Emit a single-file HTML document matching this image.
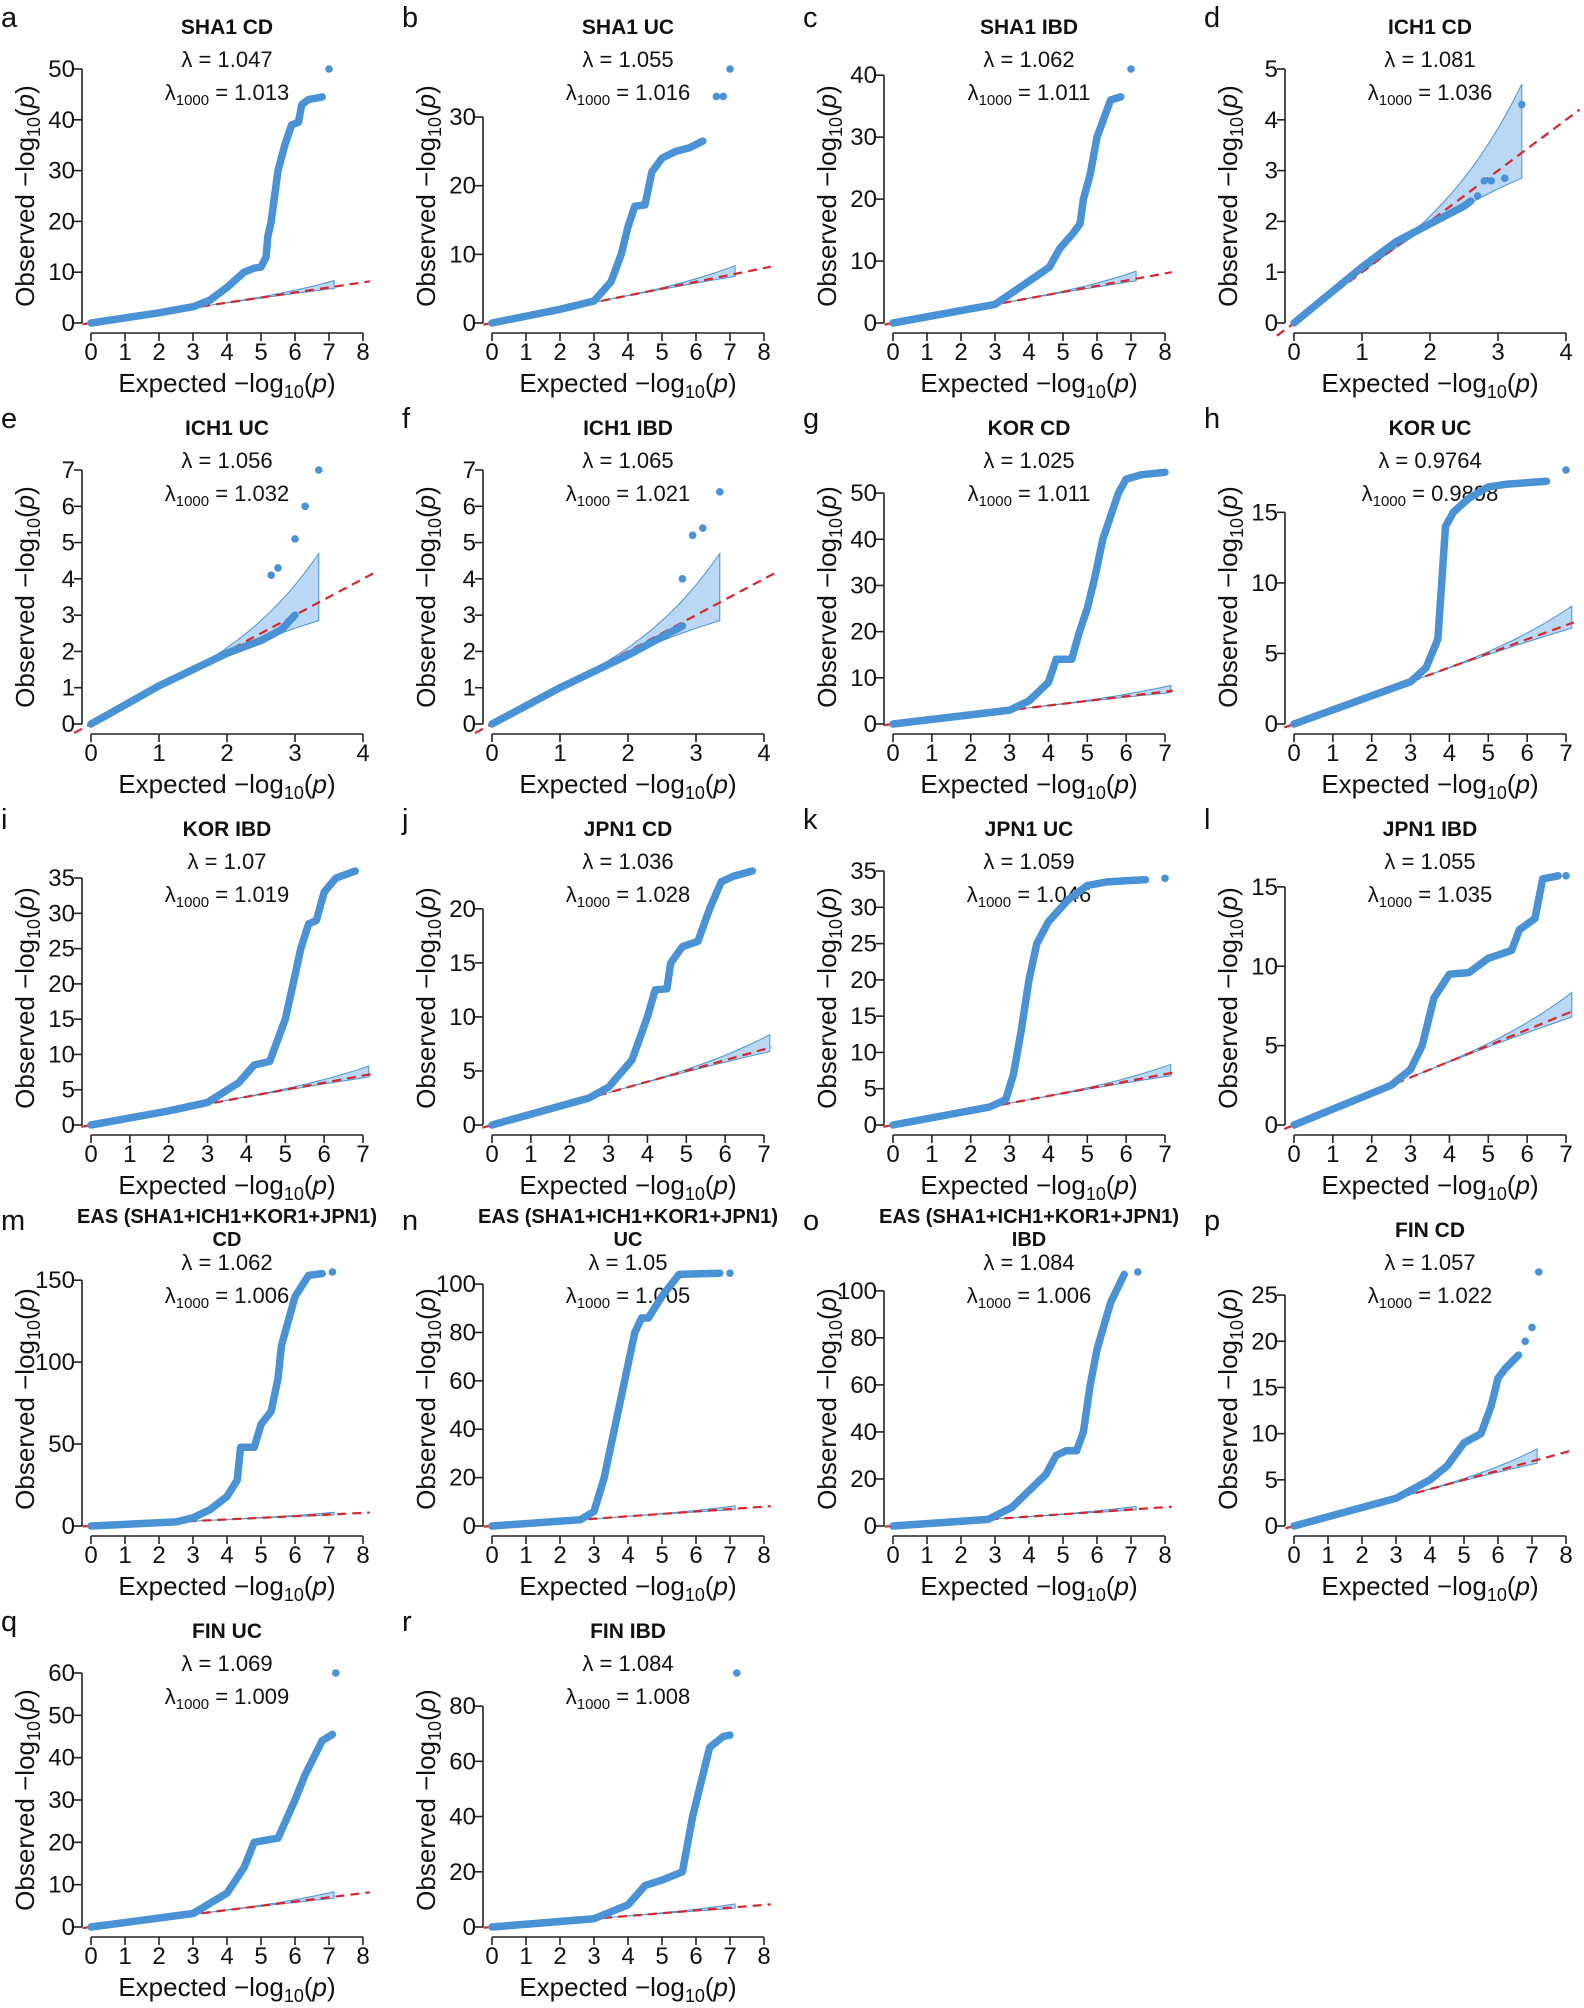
<!DOCTYPE html>
<html><head><meta charset="utf-8"><style>
html,body{margin:0;padding:0;background:#fff;}
svg{display:block;}
text{font-family:"Liberation Sans",Arial,sans-serif;fill:#111;}
</style></head><body>
<svg id="s" width="1584" height="2008" xmlns="http://www.w3.org/2000/svg"></svg>
<script>
const P=[
{L:'a',t:['SHA1 CD'],l:'1.047',l2:'1.013',xm:8,st:10,yt:50,M:50,c:[[0,0],[1,1],[2,2],[3,3.2],[3.5,4.5],[4,7],[4.5,10],[4.8,10.8],[5,11],[5.15,13],[5.2,17],[5.3,20],[5.4,25],[5.5,30],[5.7,35],[5.9,39],[6.1,39.5],[6.2,43],[6.4,44],[6.8,44.5]],d:[[7,50]]},
{L:'b',t:['SHA1 UC'],l:'1.055',l2:'1.016',xm:8,st:10,yt:30,M:37,c:[[0,0],[2,2],[3,3.2],[3.5,6],[3.8,10],[4,14],[4.2,17],[4.5,17.2],[4.7,22],[5,24],[5.4,25],[5.8,25.5],[6.2,26.5]],d:[[6.6,33],[6.8,33],[7,37]]},
{L:'c',t:['SHA1 IBD'],l:'1.062',l2:'1.011',xm:8,st:10,yt:40,M:41,c:[[0,0],[2,2],[3,3],[3.8,6],[4.2,7.5],[4.6,9],[4.9,12],[5.3,14.5],[5.5,16],[5.6,20],[5.8,24],[6,30],[6.2,33],[6.4,36],[6.7,36.5]],d:[[7,41]]},
{L:'d',t:['ICH1 CD'],l:'1.081',l2:'1.036',xm:4,st:1,yt:5,M:5,ich:1,c:[[0,0],[1,1.1],[1.5,1.6],[2,1.95],[2.5,2.3],[2.6,2.4]],d:[[2.7,2.5],[2.8,2.8],[2.9,2.8],[3.1,2.85],[3.35,4.3]]},
{L:'e',t:['ICH1 UC'],l:'1.056',l2:'1.032',xm:4,st:1,yt:7,M:7,ich:1,c:[[0,0],[1,1.05],[2,1.95],[2.5,2.3],[2.8,2.6],[3,3]],d:[[2.65,4.1],[2.75,4.3],[3.0,5.1],[3.15,6.0],[3.35,7.0]]},
{L:'f',t:['ICH1 IBD'],l:'1.065',l2:'1.021',xm:4,st:1,yt:7,M:7,ich:1,c:[[0,0],[1,1],[2,1.9],[2.8,2.7]],d:[[2.8,4],[2.95,5.2],[3.1,5.4],[3.35,6.4]]},
{L:'g',t:['KOR CD'],l:'1.025',l2:'1.011',xm:7,st:10,yt:50,M:55,c:[[0,0],[2.5,2.5],[3,3],[3.5,5],[4,9],[4.2,14],[4.6,14],[4.8,20],[5,25],[5.2,32],[5.4,40],[5.6,45],[5.8,50],[6,53],[6.4,54],[7,54.5]],d:[]},
{L:'h',t:['KOR UC'],l:'0.9764',l2:'0.9898',xm:7,st:5,yt:15,M:18,c:[[0,0],[2,2],[3,3],[3.4,4],[3.7,6],[3.8,10],[3.9,14],[4.1,15],[4.5,16],[5,16.8],[5.5,17],[6.5,17.2]],d:[[7,18]]},
{L:'i',t:['KOR IBD'],l:'1.07',l2:'1.019',xm:7,st:5,yt:35,M:36,c:[[0,0],[2,2],[3,3.2],[3.8,6],[4.2,8.5],[4.6,9],[4.8,12],[5,15],[5.2,20],[5.4,25],[5.6,28.5],[5.8,29],[6,33],[6.3,35],[6.8,36]],d:[]},
{L:'j',t:['JPN1 CD'],l:'1.036',l2:'1.028',xm:7,st:5,yt:20,M:23.5,c:[[0,0],[2.5,2.5],[3,3.5],[3.6,6],[3.8,8],[4,10],[4.2,12.5],[4.5,12.6],[4.6,15],[4.9,16.5],[5.3,17],[5.6,20],[5.9,22.5],[6.2,23],[6.7,23.5]],d:[]},
{L:'k',t:['JPN1 UC'],l:'1.059',l2:'1.046',xm:7,st:5,yt:35,M:35,c:[[0,0],[2.5,2.5],[2.9,3.5],[3.1,7],[3.3,13],[3.5,20],[3.7,25],[4,28],[4.5,31],[5,33],[5.5,33.5],[6.5,33.8]],d:[[7,34]]},
{L:'l',t:['JPN1 IBD'],l:'1.055',l2:'1.035',xm:7,st:5,yt:15,M:16,c:[[0,0],[2.5,2.5],[3,3.5],[3.3,5],[3.6,8],[4,9.5],[4.5,9.6],[5,10.5],[5.6,11],[5.8,12.3],[6.2,13],[6.4,15.5],[6.8,15.7]],d:[[7,15.7]]},
{L:'m',t:['EAS (SHA1+ICH1+KOR1+JPN1)','CD'],l:'1.062',l2:'1.006',xm:8,st:50,yt:150,M:155,c:[[0,0],[2.5,2.5],[3,5],[3.5,10],[4,18],[4.3,28],[4.4,48],[4.8,48],[5,62],[5.3,70],[5.5,90],[5.6,110],[5.8,125],[6,140],[6.4,153],[6.8,154]],d:[[7.1,155]]},
{L:'n',t:['EAS (SHA1+ICH1+KOR1+JPN1)','UC'],l:'1.05',l2:'1.005',xm:8,st:20,yt:100,M:105,c:[[0,0],[2.6,2.6],[3,6],[3.3,20],[3.6,40],[3.9,60],[4.2,80],[4.4,86],[4.6,86],[5,95],[5.5,104],[6.7,104.5]],d:[[7,104.5]]},
{L:'o',t:['EAS (SHA1+ICH1+KOR1+JPN1)','IBD'],l:'1.084',l2:'1.006',xm:8,st:20,yt:100,M:108,c:[[0,0],[2.8,2.8],[3.5,8],[4,15],[4.5,22],[4.8,30],[5.1,32],[5.4,32],[5.6,40],[5.8,60],[6,75],[6.2,85],[6.4,95],[6.8,107]],d:[[7.2,108]]},
{L:'p',t:['FIN CD'],l:'1.057',l2:'1.022',xm:8,st:5,yt:25,M:27.5,c:[[0,0],[3,3],[3.5,4],[4,5],[4.5,6.5],[5,9],[5.5,10],[5.8,13],[6,16],[6.2,17],[6.6,18.5]],d:[[6.8,20],[7,21.5],[7.2,27.5]]},
{L:'q',t:['FIN UC'],l:'1.069',l2:'1.009',xm:8,st:10,yt:60,M:60,c:[[0,0],[3,3.2],[4,8],[4.5,14],[4.8,20],[5.5,21],[6,30],[6.3,36],[6.8,44],[7.1,45.5]],d:[[7.2,60]]},
{L:'r',t:['FIN IBD'],l:'1.084',l2:'1.008',xm:8,st:20,yt:80,M:92,c:[[0,0],[3,3],[4,8],[4.5,15],[5,17],[5.6,20],[5.9,40],[6.2,55],[6.4,65],[6.8,69],[7,69.5]],d:[[7.2,92]]}
];
const BL='#4a92d6';
let h='';
P.forEach((p,i)=>{
 const ox=(i%4)*401, oy=Math.floor(i/4)*401;
 const X=v=>91+v*272/p.xm, Y=v=>323-v*254/p.M;
 let g=`<g transform="translate(${ox},${oy})">`;
 g+=`<text x="1" y="27" font-size="29">${p.L}</text>`;
 if(p.t.length==1){
  g+=`<text x="227" y="34" font-size="21" font-weight="bold" text-anchor="middle">${p.t[0]}</text>`;
 } else {
  g+=`<text x="227" y="20" font-size="20" font-weight="bold" text-anchor="middle" textLength="300" lengthAdjust="spacingAndGlyphs">${p.t[0]}</text>`;
  g+=`<text x="227" y="43" font-size="20" font-weight="bold" text-anchor="middle">${p.t[1]}</text>`;
 }
 g+=`<text x="227" y="67" font-size="22" text-anchor="middle">λ = ${p.l}</text>`;
 g+=`<text x="227" y="100" font-size="22" text-anchor="middle">λ<tspan font-size="15" dy="5">1000</tspan><tspan dy="-5"> = ${p.l2}</tspan></text>`;
 const x0=p.ich?1:3, x1=p.ich?3.35:7.15;
 const up=p.ich?1.35:1.2, lo=p.ich?0.5:0.35;
 let U=[],D=[];
 for(let k=0;k<=20;k++){const x=x0+(x1-x0)*k/20,f=k/20;U.push([X(x),Y(x+up*f*f*f)]);D.push([X(x),Y(x-lo*f*f)]);}
 const poly=U.concat(D.reverse()).map(a=>a[0].toFixed(1)+','+a[1].toFixed(1)).join(' ');
 g+=`<polygon points="${poly}" fill="#a9cdf0" fill-opacity="0.8" stroke="${BL}" stroke-width="1"/>`;
 const rx=p.xm==8?8.2:(p.xm==7?7.2:4.2);
 g+=`<line x1="${X(-0.25)}" y1="${Y(-0.25)}" x2="${X(rx)}" y2="${Y(rx)}" stroke="#d8262c" stroke-width="2.2" stroke-dasharray="9,6"/>`;
 g+=`<polyline points="${p.c.map(a=>X(a[0]).toFixed(1)+','+Y(a[1]).toFixed(1)).join(' ')}" fill="none" stroke="${BL}" stroke-width="7.5" stroke-linejoin="round" stroke-linecap="round"/>`;
 p.d.forEach(a=>{g+=`<circle cx="${X(a[0])}" cy="${Y(a[1])}" r="3.8" fill="${BL}"/>`;});
 g+=`<line x1="${X(0)}" y1="333" x2="${X(p.xm)}" y2="333" stroke="#222" stroke-width="1.6"/>`;
 for(let t=0;t<=p.xm;t++){g+=`<line x1="${X(t)}" y1="333" x2="${X(t)}" y2="341" stroke="#222" stroke-width="1.6"/><text x="${X(t)}" y="360" font-size="24" text-anchor="middle">${t}</text>`;}
 g+=`<line x1="82" y1="${Y(0)}" x2="82" y2="${Y(p.yt)}" stroke="#222" stroke-width="1.6"/>`;
 for(let t=0;t<=p.yt;t+=p.st){g+=`<line x1="74" y1="${Y(t)}" x2="82" y2="${Y(t)}" stroke="#222" stroke-width="1.6"/><text x="${75}" y="${Y(t)+8}" font-size="24" text-anchor="end">${t}</text>`;}
 g+=`<text x="227" y="392" font-size="26" text-anchor="middle">Expected  −log<tspan font-size="18" dy="6">10</tspan><tspan dy="-6">(</tspan><tspan font-style="italic">p</tspan>)</text>`;
 g+=`<text transform="translate(34,196) rotate(-90)" font-size="26" text-anchor="middle">Observed  −log<tspan font-size="18" dy="6">10</tspan><tspan dy="-6">(</tspan><tspan font-style="italic">p</tspan>)</text>`;
 g+='</g>';
 h+=g;
});
document.getElementById('s').innerHTML=h;
</script>
</body></html>
